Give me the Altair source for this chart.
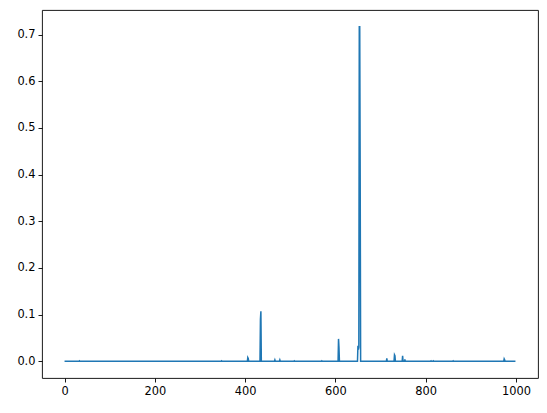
import altair as alt
import pandas as pd

# Positions (x) and heights (y) of the non-zero points
spike_x = [33, 348, 406, 407, 434, 435, 466, 477, 509, 570, 607, 608,
           650, 651, 652, 653, 654, 655, 714, 731, 732, 749, 754, 812, 817, 861, 974, 975]
spike_y = [0.001, 0.001, 0.008, 0.006, 0.09, 0.107, 0.003, 0.003, 0.001, 0.001, 0.048, 0.03,
           0.033, 0.025, 0.03, 0.717, 0.717, 0.4, 0.0065, 0.014, 0.012, 0.012, 0.004, 0.001, 0.001, 0.001, 0.005, 0.003]
n_points = 1000
x_ticks = [0, 200, 400, 600, 800, 1000]
y_ticks = [0.0, 0.1, 0.2, 0.3, 0.4, 0.5, 0.6, 0.7]

lookup = dict(zip(spike_x, spike_y))
df = pd.DataFrame({
    "x": list(range(n_points)),
    "y": [lookup.get(i, 0.0) for i in range(n_points)],
})

axis_style = dict(title=None, grid=False, domain=False, tickColor="black", tickSize=4,
                  tickWidth=0.9, labelColor="black", labelFont="DejaVu Sans",
                  labelFontSize=11.4, labelPadding=3, labelFlush=False)

chart = alt.Chart(df).mark_line(color="#1f77b4", strokeWidth=1.5).encode(
    x=alt.X("x:Q",
            scale=alt.Scale(domain=[-49.95, 1048.95], nice=False, zero=False),
            axis=alt.Axis(values=x_ticks, format="d", **axis_style)),
    y=alt.Y("y:Q",
            scale=alt.Scale(domain=[-0.0358, 0.7528], nice=False, zero=False),
            axis=alt.Axis(values=y_ticks, format=".1f", **axis_style)),
).properties(
    width=496,
    height=368,
    background="white",
    autosize=alt.AutoSizeParams(type="none"),
    padding={"left": 34, "top": 2, "right": 1, "bottom": 18},
).configure_view(
    stroke="black", strokeWidth=0.9
)

chart.save("out.html", embed_options={"renderer": "svg", "actions": False})
